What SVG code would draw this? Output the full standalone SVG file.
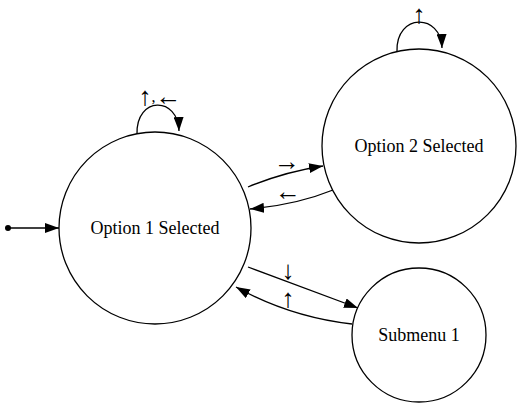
<svg xmlns="http://www.w3.org/2000/svg" width="523" height="407" viewBox="0 0 523 407">
<style>
.n{fill:#fff;stroke:#000;stroke-width:1.3}
.t{font-family:"Liberation Serif","DejaVu Serif",serif;font-size:18px;text-anchor:middle;fill:#000}
.e{fill:none;stroke:#000;stroke-width:1.3}
.l{font-family:"Liberation Serif","DejaVu Serif",serif;font-size:26px;text-anchor:middle;fill:#000}
</style>
<defs>
<marker id="a" markerWidth="14" markerHeight="10" refX="14" refY="5" orient="auto" markerUnits="userSpaceOnUse">
<path d="M0,0 L14,5 L0,10 Z" fill="#000"/>
</marker>
</defs>
<g id="edges">
<circle cx="8" cy="228" r="3" fill="#000"/>
<path class="e" d="M8,228 L59,228" marker-end="url(#a)"/>
<path class="e" d="M137,134 C136,96 178,96 179,131" marker-end="url(#a)"/>
<path class="e" d="M397,51 C396,13 441,13 442,48" marker-end="url(#a)"/>
<path class="e" d="M248,187 Q284,172 323,166" marker-end="url(#a)"/>
<path class="e" d="M333,190 Q296,205 250,209" marker-end="url(#a)"/>
<path class="e" d="M248,267 L358,308" marker-end="url(#a)"/>
<path class="e" d="M352,324 Q290,317 236,287" marker-end="url(#a)"/>
<text class="l" x="160" y="104.5">↑<tspan font-size="16" dy="-3">,</tspan><tspan dy="3">←</tspan></text>
<text class="l" x="419" y="23">↑</text>
<text class="l" x="287" y="170">→</text>
<text class="l" x="288" y="200">←</text>
<text class="l" x="288" y="279">↓</text>
<text class="l" x="288" y="307">↑</text>
</g>
<g id="option1"><circle class="n" cx="155" cy="228" r="96"/><text class="t" x="155" y="234">Option 1 Selected</text></g>
<g id="option2"><circle class="n" cx="419" cy="146" r="97"/><text class="t" x="419" y="152">Option 2 Selected</text></g>
<g id="submenu1"><circle class="n" cx="419" cy="335" r="67"/><text class="t" x="419" y="341">Submenu 1</text></g>
</svg>
